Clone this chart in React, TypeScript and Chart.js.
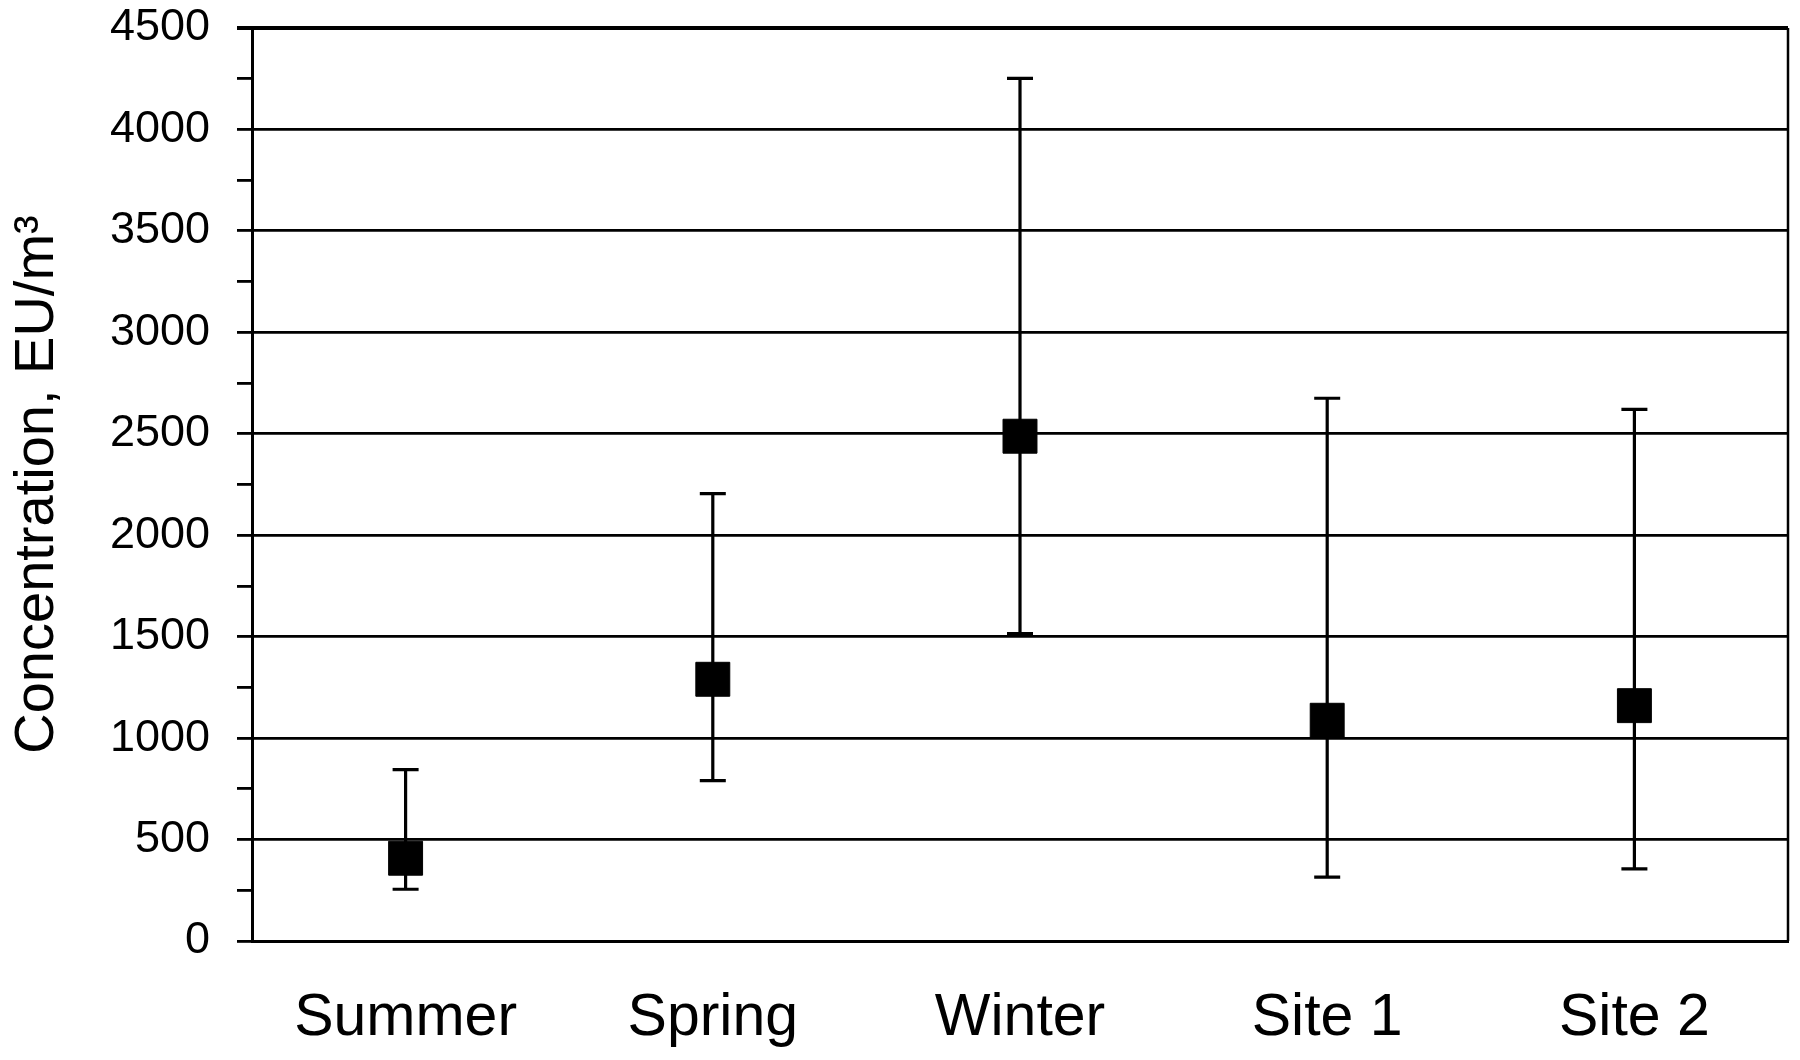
import React, { useEffect, useRef } from "react";
import { Chart, registerables } from "chart.js";

Chart.register(...registerables);

const categories = ["Summer", "Spring", "Winter", "Site 1", "Site 2"];
const meanValues = [408, 1290, 2488, 1088, 1160];
const upperValues = [845, 2205, 4252, 2675, 2620];
const lowerValues = [255, 790, 1515, 315, 355];
const yMin = 0;
const yMax = 4500;
const yMinorStep = 250;
const yMajorStep = 500;
const yTitle = "Concentration, EU/m\u00B3";

const FONT = "'Liberation Sans', Arial, Helvetica, sans-serif";

const errorBarPlugin = {
  id: "errorBars",
  beforeDatasetsDraw(chart: any) {
    const { ctx, scales } = chart;
    const x = scales.x;
    const y = scales.y;
    ctx.save();
    ctx.strokeStyle = "#000";
    ctx.lineWidth = 3.2;
    ctx.lineCap = "butt";
    const cap = 13;
    categories.forEach((_, i) => {
      const px = x.getPixelForValue(i);
      const top = y.getPixelForValue(upperValues[i]);
      const bot = y.getPixelForValue(lowerValues[i]);
      ctx.beginPath();
      ctx.moveTo(px, top);
      ctx.lineTo(px, bot);
      ctx.moveTo(px - cap, top);
      ctx.lineTo(px + cap, top);
      ctx.moveTo(px - cap, bot);
      ctx.lineTo(px + cap, bot);
      ctx.stroke();
    });
    ctx.restore();
  },
};

const framePlugin = {
  id: "frame",
  afterDatasetsDraw(chart: any) {
    const { ctx, chartArea } = chart;
    ctx.save();
    ctx.strokeStyle = "#000";
    ctx.lineWidth = 4;
    ctx.beginPath();
    ctx.moveTo(chartArea.left - 15, chartArea.top);
    ctx.lineTo(chartArea.right, chartArea.top);
    ctx.stroke();
    ctx.lineWidth = 2.5;
    ctx.beginPath();
    ctx.moveTo(chartArea.right, chartArea.top);
    ctx.lineTo(chartArea.right, chartArea.bottom);
    ctx.stroke();
    ctx.restore();
  },
};

export default function App() {
  const canvasRef = useRef<HTMLCanvasElement | null>(null);

  useEffect(() => {
    if (!canvasRef.current) return;
    const chart = new Chart(canvasRef.current, {
      type: "line",
      data: {
        labels: categories,
        datasets: [
          {
            data: meanValues,
            showLine: false,
            pointStyle: "rect",
            pointRadius: 24,
            pointHoverRadius: 24,
            pointBackgroundColor: "#000",
            pointBorderColor: "#000",
            pointBorderWidth: 1,
            borderColor: "#000",
            backgroundColor: "#000",
          },
        ],
      },
      options: {
        animation: false,
        responsive: false,
        maintainAspectRatio: false,
        layout: { autoPadding: false, padding: { left: 0, right: 12, top: 28, bottom: 0 } },
        plugins: {
          legend: { display: false },
          tooltip: { enabled: false },
        },
        scales: {
          x: {
            type: "category",
            offset: true,
            grid: { display: false, drawTicks: false },
            border: { display: true, color: "#000", width: 3 },
            ticks: {
              color: "#000",
              padding: 42,
              maxRotation: 0,
              font: { family: FONT, size: 59 },
            },
            afterFit: (s: any) => {
              s.height = 1060 - 941 - 0;
            },
          },
          y: {
            min: yMin,
            max: yMax,
            grid: {
              color: (c: any) =>
                c.tick && c.tick.value % yMajorStep === 0 ? "#000" : "rgba(0,0,0,0)",
              lineWidth: 2.8,
              tickColor: "#000",
              tickLength: 15,
              tickWidth: 2.8,
            },
            border: { display: true, color: "#000", width: 3 },
            ticks: {
              stepSize: yMinorStep,
              autoSkip: false,
              color: "#000",
              padding: 27,
              font: { family: FONT, size: 45 },
              callback: (v: any) => (Number(v) % yMajorStep === 0 ? String(v) : ""),
            },
            title: {
              display: true,
              text: yTitle,
              color: "#000",
              font: { family: FONT, size: 56 },
              padding: { top: 4, bottom: 0 },
            },
            afterFit: (s: any) => {
              s.width = 252;
              s.paddingTop = 0;
              s.paddingBottom = 0;
            },
          },
        },
      },
      plugins: [errorBarPlugin, framePlugin],
    });
    return () => chart.destroy();
  }, []);

  return (
    <div style={{ position: "fixed", left: 0, top: 0, width: 1800, height: 1060, background: "#fff" }}>
      <canvas ref={canvasRef} width={1800} height={1060} style={{ width: 1800, height: 1060 }} />
    </div>
  );
}
